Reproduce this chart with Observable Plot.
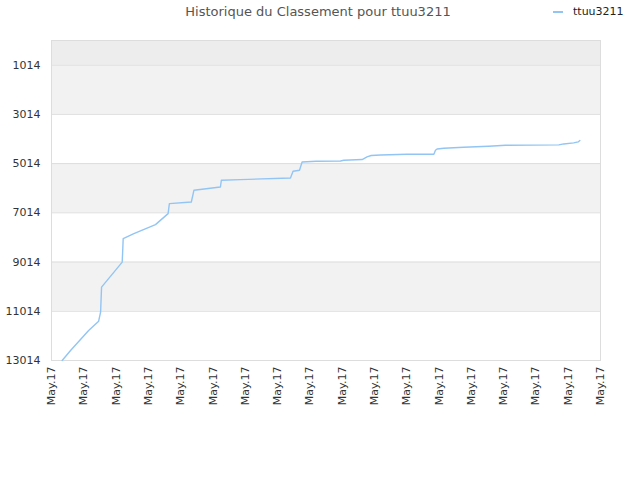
<!DOCTYPE html>
<html>
<head>
<meta charset="utf-8">
<script src="https://cdn.jsdelivr.net/npm/d3@7"></script>
<script src="https://cdn.jsdelivr.net/npm/@observablehq/plot@0.6"></script>
<style>
  body { margin: 0; background: #fff; font-family: "DejaVu Sans", sans-serif; }
  #wrap { position: relative; width: 640px; }
  #head { position: relative; height: 30px; }
  #title { position: absolute; left: 0; width: 636px; top: 4px; text-align: center; font-size: 13px; color: #555; }
  #legend { position: absolute; left: 553px; top: 5px; font-size: 11px; color: #222; display: flex; align-items: center; }
  #legend .sw { width: 10px; height: 2px; background: #92c5f4; margin-right: 10px; }
</style>
</head>
<body>
<div id="wrap">
  <div id="head">
    <div id="title">Historique du Classement pour ttuu3211</div>
    <div id="legend"><span class="sw"></span><span>ttuu3211</span></div>
  </div>
  <div id="chart"></div>
</div>
<script>
// tick positions (index) and labels on the x axis
const xTicks = d3.range(0, 18);
const xTickLabel = "May.17";
const yTicks = [1014, 3014, 5014, 7014, 9014, 11014, 13014];
// background band boundaries
const bandStarts = [14, 1014, 3014, 5014, 7014, 9014, 11014];
const bandEnds   = [1014, 3014, 5014, 7014, 9014, 11014, 13014];
const bandFills  = ["#ededed", "#f2f2f2", "#ffffff", "#f2f2f2", "#ffffff", "#f2f2f2", "#ffffff"];
// series: position along the time axis and rank
const seriesX = [0.33, 0.59, 1.15, 1.46, 1.52, 1.55, 2.19, 2.22, 2.55, 3.22, 3.61, 3.65, 4.33, 4.41, 5.23, 5.26, 5.85, 7.40, 7.48, 7.68, 7.76, 8.20, 8.95, 9.05, 9.62, 9.77, 9.90, 10.19, 11.01, 11.84, 11.89, 11.94, 12.15, 12.76, 13.54, 14.06, 15.71, 15.86, 16.17, 16.31, 16.36];
const seriesRank = [13014, 12608, 11794, 11416, 11050, 10033, 9016, 8064, 7860, 7494, 7047, 6640, 6575, 6099, 5965, 5692, 5664, 5599, 5326, 5285, 4948, 4919, 4907, 4879, 4850, 4744, 4687, 4663, 4635, 4635, 4472, 4419, 4390, 4350, 4309, 4268, 4256, 4216, 4175, 4134, 4077];

const bands = bandStarts.map((s, i) => ({y1: s, y2: bandEnds[i], fill: bandFills[i]}));
const series = seriesX.map((x, i) => ({x, rank: seriesRank[i]}));

const chart = Plot.plot({
  width: 640,
  height: 450,
  marginTop: 10,
  marginBottom: 120,
  marginLeft: 51,
  marginRight: 40,
  style: { fontFamily: "DejaVu Sans, sans-serif", fontSize: "11px", color: "#333", background: "#fff" },
  x: { domain: [0, 17], label: null },
  y: { domain: [14, 13014], reverse: true, label: null },
  marks: [
    Plot.rect(bands, { x1: 0, x2: 17, y1: "y1", y2: "y2", fill: "fill" }),
    Plot.ruleY(yTicks, { stroke: "#dddddd" }),
    Plot.frame({ stroke: "#dddddd" }),
    Plot.line(series, { x: "x", y: "rank", stroke: "#92c5f4", strokeWidth: 1.4 }),
    Plot.axisX({ ticks: xTicks, tickFormat: () => xTickLabel, tickRotate: -90, tickSize: 0, tickPadding: 6, label: null, fill: "#333" }),
    Plot.axisY({ ticks: yTicks, tickFormat: d => String(d), tickSize: 0, tickPadding: 11, label: null, fill: "#333" })
  ]
});
document.getElementById("chart").appendChild(chart);
</script>
</body>
</html>
